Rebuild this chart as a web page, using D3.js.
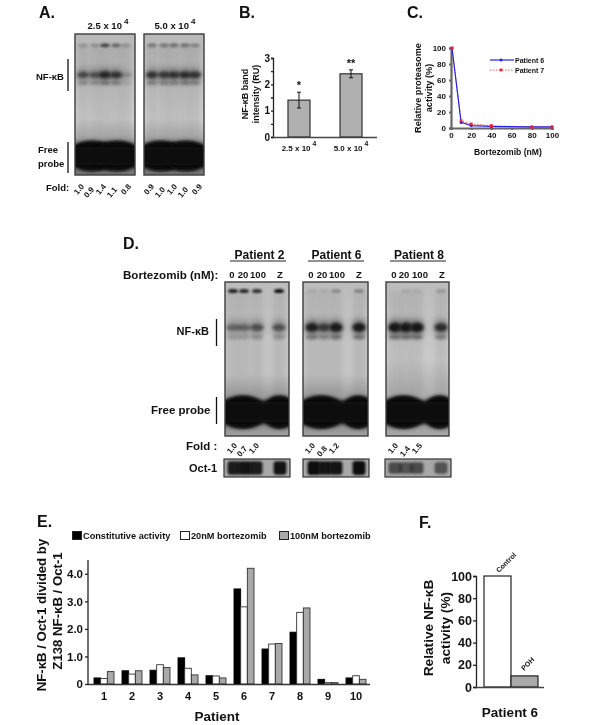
<!DOCTYPE html>
<html><head><meta charset="utf-8">
<script src="https://cdn.jsdelivr.net/npm/d3@7/dist/d3.min.js"></script>
<style>
html,body{margin:0;padding:0;background:#fff}
svg{display:block;filter:blur(0.35px)}
text{font-family:"Liberation Sans",Arial,sans-serif;font-weight:bold;fill:#111}
</style></head><body><svg id="c" width="600" height="725"></svg>
<script>
// ---------- data ----------
const foldA1 = ["1.0","0.9","1.4","1.1","0.8"];
const foldA2 = ["0.9","1.0","1.0","1.0","0.9"];
const bandsA1 = [0.6,0.55,0.85,0.75,0.2];
const bandsA2 = [0.75,0.7,0.75,0.8,0.75];
const wellsA1 = [0.2,0.2,0.65,0.45,0.2];
const wellsA2 = [0.35,0.35,0.4,0.4,0.3];

const cellCats = ["2.5 x 10","5.0 x 10"];
const cellVals = [1.4,2.4];
const cellLow = [1.1,2.25];
const cellHigh = [1.7,2.55];
const cellStars = ["*","**"];

const doses = [1,10,20,40,80,100];
const patient6 = [100,7,3,2,1.5,1.5];
const patient7 = [100,9,5,3,1,1];

const lanesD = ["0","20","100","Z"];
const foldP2 = ["1.0","0.7","1.0"];
const foldP6 = ["1.0","0.8","1.2"];
const foldP8 = ["1.0","1.4","1.5"];
const bandsP2 = [0.42,0.42,0.55,0.55];
const bandsP6 = [0.9,0.7,0.95,0.95];
const bandsP8 = [1,1,1,0.8];
const wellsP2 = [0.9,0.85,0.8,1];
const wellsP6 = [0.08,0.08,0.25,0.3];
const wellsP8 = [0,0.1,0.08,0.18];
const octP2 = [0.9,0.95,0.9,0.95];
const octP6 = [1,0.95,0.95,1];
const octP8 = [0.6,0.55,0.6,0.55];

const patients = ["1","2","3","4","5","6","7","8","9","10"];
const constitutive = [0.22,0.48,0.5,0.95,0.3,3.45,1.27,1.88,0.17,0.22];
const nm20 = [0.2,0.36,0.7,0.57,0.29,2.8,1.45,2.6,0.05,0.3];
const nm100 = [0.45,0.48,0.6,0.33,0.22,4.2,1.47,2.76,0.05,0.17];
const seriesNames = ["Constitutive activity","20nM bortezomib","100nM bortezomib"];

const poh = ["Control","POH"];
const pohVals = [100,10];

// ---------- helpers ----------
const svg = d3.select("#c");
const defs = svg.append("defs");
[["b1",1],["b15",1.6],["b2",2.2],["b3",3],["bp",2]].forEach(([id,s])=>{
  defs.append("filter").attr("id",id).attr("x","-50%").attr("y","-50%").attr("width","200%").attr("height","200%")
    .append("feGaussianBlur").attr("stdDeviation",s);
});
function addGrad(id,stops){
  const g=defs.append("linearGradient").attr("id",id).attr("x1",0).attr("y1",0).attr("x2",0).attr("y2",1);
  stops.forEach(([o,c])=>g.append("stop").attr("offset",o).attr("stop-color",c));
}
addGrad("gelA",[[0,"#b8b8b8"],[0.35,"#c4c4c4"],[0.6,"#d0d0d0"],[0.72,"#b4b4b4"],[0.8,"#888"],[1,"#777"]]);
addGrad("gelD",[[0,"#bcbcbc"],[0.35,"#c4c4c4"],[0.6,"#c4c4c4"],[0.72,"#a4a4a4"],[0.9,"#888"],[1,"#a0a0a0"]]);
addGrad("gelD8",[[0,"#bcbcbc"],[0.5,"#cacaca"],[0.72,"#b0b0b0"],[0.9,"#999"],[1,"#a8a8a8"]]);
function txt(x,y,s,size,anchor,rot){
  const t=svg.append("text").attr("x",x).attr("y",y).attr("font-size",size).attr("text-anchor",anchor||"start").text(s);
  if(rot!==undefined) t.attr("transform",`rotate(${rot},${x},${y})`);
  return t;
}
function sup(x,y,s,p,size,anchor){
  const t=svg.append("text").attr("x",x).attr("y",y).attr("font-size",size).attr("text-anchor",anchor||"middle");
  t.append("tspan").text(s);
  t.append("tspan").attr("dy",-size*0.55).attr("dx",2).attr("font-size",size*0.85).text(p);
}
function vbar(x,y1,y2){svg.append("line").attr("x1",x).attr("x2",x).attr("y1",y1).attr("y2",y2).attr("stroke","#111").attr("stroke-width",1.3);}
let gid=0;
function gel(o){
  const id="gc"+(gid++);
  defs.append("clipPath").attr("id",id).append("rect").attr("x",o.x).attr("y",o.y).attr("width",o.w).attr("height",o.h);
  const g=svg.append("g").attr("clip-path",`url(#${id})`);
  const Y=d3.scaleLinear().domain([0,1]).range([o.y,o.y+o.h]);
  g.append("rect").attr("x",o.x).attr("y",o.y).attr("width",o.w).attr("height",o.h).attr("fill",`url(#${o.grad})`);
  o.lanes.forEach((lx,i)=>{
    const cx=o.x+lx, b=o.bands[i];
    g.append("rect").attr("x",cx-o.lw/2).attr("y",Y(o.wellY)).attr("width",o.lw).attr("height",Y(o.probeTop)-Y(o.wellY))
      .attr("fill","#555").attr("opacity",o.smear).attr("filter","url(#b2)");
    g.append("ellipse").attr("cx",cx).attr("cy",Y(o.wellY)).attr("rx",o.lw*0.42).attr("ry",2)
      .attr("fill","#111").attr("opacity",o.wells[i]).attr("filter","url(#b1)");
    // halo, then core, then the lower shoulder of the band
    g.append("ellipse").attr("cx",cx).attr("cy",Y(o.bandY)).attr("rx",o.lw*0.6).attr("ry",o.bandH*2.2)
      .attr("fill","#333").attr("opacity",b*0.55).attr("filter","url(#b3)");
    g.append("ellipse").attr("cx",cx).attr("cy",Y(o.bandY)).attr("rx",o.lw*0.55).attr("ry",o.bandH*(0.55+0.6*b))
      .attr("fill","#161616").attr("opacity",b).attr("filter","url(#b15)");
    g.append("ellipse").attr("cx",cx).attr("cy",Y(o.bandY)+o.bandH*2.4).attr("rx",o.lw*0.5).attr("ry",o.bandH*0.6)
      .attr("fill","#222").attr("opacity",b*0.45).attr("filter","url(#b15)");
  });
  // free probe
  o.probe.forEach(([cx,rx])=>{
    g.append("ellipse").attr("cx",o.x+cx).attr("cy",Y((o.probeTop+o.probeBot)/2)).attr("rx",rx).attr("ry",(Y(o.probeBot)-Y(o.probeTop))/2)
      .attr("fill","#101010").attr("filter","url(#bp)");
    g.append("ellipse").attr("cx",o.x+cx).attr("cy",Y((o.probeTop+o.probeBot)/2)).attr("rx",rx*0.85).attr("ry",(Y(o.probeBot)-Y(o.probeTop))/2)
      .attr("fill","#101010").attr("filter","url(#b1)");
  });
  g.append("rect").attr("x",o.x-8).attr("y",Y(o.probeTop+0.04)).attr("width",o.w+16).attr("height",Y(o.probeBot-0.04)-Y(o.probeTop+0.04))
    .attr("fill","#101010").attr("filter","url(#bp)");
  svg.append("rect").attr("x",o.x).attr("y",o.y).attr("width",o.w).attr("height",o.h)
    .attr("fill","none").attr("stroke","#3c3c3c").attr("stroke-width",1.4);
}
function foldLabels(xs,y,labels){
  labels.forEach((s,i)=>txt(xs[i],y+(i%2?3:0),s,8,"middle",-50));
}
function styleAxis(g,w){
  g.selectAll("path,line").attr("stroke","#222").attr("stroke-width",w||1.3);
  g.selectAll("text").attr("fill","#111");
}

// ---------- panel A ----------
txt(39,18,"A.",16);
sup(108,29,"2.5 x 10","4",9.5);
sup(175,29,"5.0 x 10","4",9.5);
[[75,bandsA1,wellsA1],[144,bandsA2,wellsA2]].forEach(([x,b,w])=>gel({
  x,y:34,w:60,h:141,grad:"gelA",lanes:[8,20,30,41,51],lw:11,bands:b,wells:w,smear:0.14,
  wellY:0.08,bandY:0.29,bandH:3.4,probeTop:0.76,probeBot:0.97,
  probe:[[17,26],[42,26]]
}));
txt(36,80,"NF-κB",9.5);
vbar(68,59,91);
txt(38,153,"Free",9.5);
txt(38,167,"probe",9.5);
vbar(68,142,173);
txt(46,191,"Fold:",9.5);
foldLabels([81,91,103,114,128],191,foldA1);
foldLabels([151,162,174,185,199],191,foldA2);

// ---------- panel B ----------
txt(239,18,"B.",16);
const bx=d3.scaleBand().domain(cellCats).range([273,377]).paddingInner(0.577).paddingOuter(0.288);
const by=d3.scaleLinear().domain([0,3]).range([137,58]);
const gBars=svg.append("g");
cellCats.forEach((c,i)=>{
  gBars.append("rect").attr("x",bx(c)).attr("y",by(cellVals[i])).attr("width",bx.bandwidth()).attr("height",by(0)-by(cellVals[i]))
    .attr("fill","#b0b0b0").attr("stroke","#333").attr("stroke-width",1.2);
  const cx=bx(c)+bx.bandwidth()/2;
  gBars.append("path").attr("d",`M${cx-2},${by(cellHigh[i])}H${cx+2}M${cx},${by(cellHigh[i])}V${by(cellLow[i])}M${cx-2},${by(cellLow[i])}H${cx+2}`)
    .attr("stroke","#111").attr("stroke-width",1).attr("fill","none");
  txt(cx,by(cellHigh[i])-3,cellStars[i],11,"middle");
  sup(cx,150.5,c,"4",8);
});
const ba=svg.append("g").attr("transform","translate(273,0)").call(d3.axisLeft(by).tickValues(d3.range(0,3.01,0.5)).tickSize(2).tickPadding(1).tickFormat(d=>Number.isInteger(d)?d:""));
styleAxis(ba); ba.selectAll("text").attr("font-size",10);
svg.append("line").attr("x1",273).attr("x2",377).attr("y1",137.5).attr("y2",137.5).attr("stroke","#444").attr("stroke-width",1.3);
txt(248,94,"NF-κB band",9,"middle",-90);
txt(259,94,"intensity (RU)",9,"middle",-90);

// ---------- panel C ----------
txt(407,18,"C.",16);
const cx=d3.scaleLinear().domain([0,100]).range([451,552]);
const cy=d3.scaleLinear().domain([0,100]).range([128,48]);
const ca=svg.append("g").attr("transform","translate(0,128)").call(d3.axisBottom(cx).tickValues([0,20,40,60,80,100]).tickSize(2));
styleAxis(ca,2.2); ca.selectAll("path,line").attr("stroke","#666"); ca.selectAll("text").attr("font-size",8).attr("dy",5);
const cb=svg.append("g").attr("transform","translate(451,0)").call(d3.axisLeft(cy).tickValues([0,20,40,60,80,100]).tickSize(2));
styleAxis(cb,2.2); cb.selectAll("path,line").attr("stroke","#666"); cb.selectAll("text").attr("font-size",8);
const ln=d3.line().x((d,i)=>cx(doses[i])).y(d=>cy(d));
svg.append("path").attr("d",ln(patient7)).attr("fill","none").attr("stroke","#f04848").attr("stroke-width",0.9).attr("stroke-dasharray","1.5,1.5");
svg.append("path").attr("d",ln(patient6)).attr("fill","none").attr("stroke","#2222e0").attr("stroke-width",1.2);
svg.selectAll(null).data(patient6).enter().append("circle").attr("cx",(d,i)=>cx(doses[i])).attr("cy",d=>cy(d)).attr("r",1.5).attr("fill","#2222e0");
svg.selectAll(null).data(patient7).enter().append("rect").attr("x",(d,i)=>cx(doses[i])-1.4).attr("y",d=>cy(d)-1.4).attr("width",2.8).attr("height",2.8).attr("fill","#f02030");
svg.append("line").attr("x1",490).attr("x2",514).attr("y1",60).attr("y2",60).attr("stroke","#2222e0").attr("stroke-width",1.2);
svg.append("circle").attr("cx",501).attr("cy",60).attr("r",1.5).attr("fill","#2222e0");
txt(515,63,"Patient 6",7);
svg.append("line").attr("x1",490).attr("x2",514).attr("y1",70).attr("y2",70).attr("stroke","#f04848").attr("stroke-width",0.9).attr("stroke-dasharray","1.5,1.5");
svg.append("rect").attr("x",499.6).attr("y",68.6).attr("width",2.8).attr("height",2.8).attr("fill","#f02030");
txt(515,73,"Patient 7",7);
txt(421,88,"Relative proteasome",9.2,"middle",-90);
txt(432,88,"activity (%)",9.2,"middle",-90);
txt(508,155,"Bortezomib (nM)",8.6,"middle");

// ---------- panel D ----------
txt(123,249,"D.",16);
const dGels=[
 {x:225,w:64,t:"Patient 2",b:bandsP2,well:wellsP2,grad:"gelD",lab:[232,243,258,280],pos:[233,244,257,279],fold:foldP2,fx:[234,244,256],oct:octP2,ox:224,ow:66,ol:[10,21,32,56],hx:258,tx:259.5},
 {x:303,w:65,t:"Patient 6",b:bandsP6,well:wellsP6,grad:"gelD",lab:[311,322,337,359],pos:[312,324,336,359],fold:foldP6,fx:[312,324,336],oct:octP6,ox:303,ow:66,ol:[11,22,33,56],hx:336,tx:336.5},
 {x:386,w:63,t:"Patient 8",b:bandsP8,well:wellsP8,grad:"gelD8",lab:[394,404,420,442],pos:[395,406,417,441],fold:foldP8,fx:[395,407,419],oct:octP8,ox:385,ow:66,ol:[10,21,32,56],hx:418,tx:419}
];
dGels.forEach(d=>{
  txt(d.tx,259,d.t,12,"middle");
  svg.append("line").attr("x1",d.hx-28).attr("x2",d.hx+28).attr("y1",261).attr("y2",261).attr("stroke","#222").attr("stroke-width",1);
  lanesD.forEach((l,i)=>txt(d.lab[i],278,l,9.5,"middle"));
  gel({x:d.x,y:282,w:d.w,h:154,grad:d.grad,lanes:d.pos.map(v=>v-d.x),lw:12,bands:d.b,wells:d.well,smear:0.1,
    wellY:0.058,bandY:0.295,bandH:4,probeTop:0.74,probeBot:0.95,probe:[[d.w*0.28,d.w*0.42],[d.w*0.85,d.w*0.3]]});
  foldLabels(d.fx,450,d.fold);
  // Oct-1 blot
  const id="oc"+(gid++);
  defs.append("clipPath").attr("id",id).append("rect").attr("x",d.ox).attr("y",459).attr("width",d.ow).attr("height",18);
  const og=svg.append("g").attr("clip-path",`url(#${id})`);
  og.append("rect").attr("x",d.ox).attr("y",459).attr("width",d.ow).attr("height",18).attr("fill","#a8a8a8");
  d.oct.forEach((v,i)=>og.append("rect").attr("x",d.ox+d.ol[i]-6.5).attr("y",468-4-3*v).attr("width",13).attr("height",8+6*v).attr("rx",3)
    .attr("fill","#111").attr("opacity",v).attr("filter","url(#b1)"));
  svg.append("rect").attr("x",d.ox).attr("y",459).attr("width",d.ow).attr("height",18).attr("fill","none").attr("stroke","#333").attr("stroke-width",1.2);
});
txt(123,279,"Bortezomib (nM):",11.6);
txt(209,335,"NF-κB",11,"end");
vbar(216.5,319,346);
txt(151,414,"Free probe",11.5);
vbar(216.5,397,424);
txt(186,450,"Fold :",11.5);
txt(189,472,"Oct-1",11);

// ---------- panel E ----------
txt(37,527,"E.",16);
const ex=d3.scaleBand().domain(patients).range([88,368]);
const ey=d3.scaleLinear().domain([0,4.5]).range([684,560]);
const sub=d3.scaleBand().domain(seriesNames).range([0,20]);
const eColors=["#000","#fff","#a9a9a9"];
const eVals=[constitutive,nm20,nm100];
seriesNames.forEach((s,k)=>{
  svg.selectAll(null).data(eVals[k]).enter().append("rect")
   .attr("x",(d,i)=>ex(patients[i])+6+sub(s))
   .attr("y",d=>ey(d)).attr("width",sub.bandwidth()).attr("height",d=>ey(0)-ey(d))
   .attr("fill",eColors[k]).attr("stroke",k==0?"#000":"#333").attr("stroke-width",0.9);
});
const ea=svg.append("g").attr("transform","translate(88,0)").call(d3.axisLeft(ey).tickValues([0,1,2,3,4]).tickSize(3).tickPadding(2).tickFormat(d=>d===0?"0":d3.format(".1f")(d)));
styleAxis(ea); ea.selectAll("text").attr("font-size",11.5);
ea.select("path").attr("d","M0,684V560");
svg.append("line").attr("x1",88).attr("x2",370).attr("y1",684.5).attr("y2",684.5).attr("stroke","#333").attr("stroke-width",1.3);
patients.forEach(p=>txt(ex(p)+ex.bandwidth()/2+2,700,p,11,"middle"));
const eLegX=[72,180,279];
seriesNames.forEach((s,k)=>{
  svg.append("rect").attr("x",eLegX[k]+0.5).attr("y",531.5).attr("width",9).attr("height",8).attr("fill",eColors[k]).attr("stroke","#222");
  txt(eLegX[k]+11,539,s,9.2);
});
txt(46,615,"NF-κB / Oct-1 divided by",13.2,"middle",-90);
txt(62,611,"Z138 NF-κB / Oct-1",13.2,"middle",-90);
txt(217,721,"Patient",13.5,"middle");

// ---------- panel F ----------
txt(419,528,"F.",16);
const fx=d3.scaleBand().domain(poh).range([484,538]);
const fy=d3.scaleLinear().domain([0,100]).range([687,576]);
const fCol=["#fff","#a9a9a9"];
poh.forEach((p,i)=>{
  svg.append("rect").attr("x",fx(p)).attr("y",fy(pohVals[i])).attr("width",fx.bandwidth()).attr("height",fy(0)-fy(pohVals[i]))
    .attr("fill",fCol[i]).attr("stroke","#222").attr("stroke-width",1.2);
});
const fa=svg.append("g").attr("transform","translate(476,0)").call(d3.axisLeft(fy).tickValues([0,20,40,60,80,100]).tickSize(3).tickPadding(1));
styleAxis(fa); fa.selectAll("text").attr("font-size",12.5);
svg.append("line").attr("x1",476).attr("x2",544).attr("y1",687.5).attr("y2",687.5).attr("stroke","#444").attr("stroke-width",1.3);
txt(499,573,"Control",7,"start",-45);
txt(524,671,"POH",7,"start",-45);
txt(433,628,"Relative NF-κB",13.7,"middle",-90);
txt(450,628,"activity (%)",13.7,"middle",-90);
txt(510,717,"Patient 6",13.5,"middle");
</script></body></html>
